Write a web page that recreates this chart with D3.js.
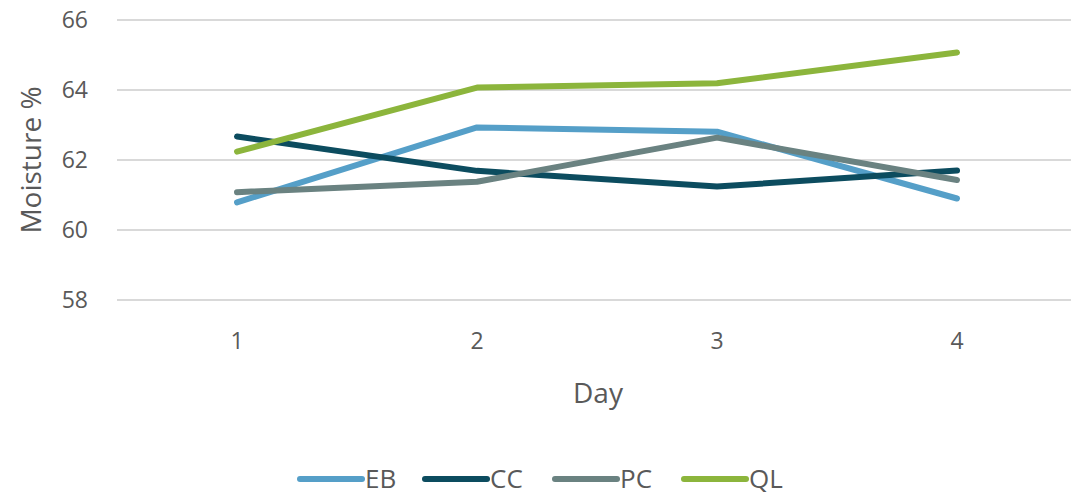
<!DOCTYPE html>
<html>
<head>
<meta charset="utf-8">
<script src="https://cdn.jsdelivr.net/npm/d3@7"></script>
<style>
  body { margin: 0; background: #fff; }
  text { font-family: "Open Sans", "Noto Sans", sans-serif; fill: #595959; }
</style>
</head>
<body>
<div id="chart"></div>
<script>
// chart data
const days = ['1', '2', '3', '4']
const seriesNames = ['EB', 'CC', 'PC', 'QL']
const ebValues = [60.79, 62.93, 62.81, 60.90]
const ccValues = [62.67, 61.69, 61.24, 61.70]
const pcValues = [61.08, 61.38, 62.64, 61.43]
const qlValues = [62.24, 64.07, 64.19, 65.07]
const yTicks = [58, 60, 62, 64, 66]
const colors = ['#559fc8', '#0c4c5f', '#6a8281', '#8cb53c']

const series = [ebValues, ccValues, pcValues, qlValues]

const width = 1071,
  height = 495

let svg = d3.select('#chart')
  .append('svg')
  .attr('width', width)
  .attr('height', height)

const xScale = d3.scaleBand()
  .domain(days)
  .range([117, 1077])

const yScale = d3.scaleLinear()
  .domain([58, 66])
  .range([300, 20])

// gridlines
svg.append('g')
  .selectAll('line')
  .data(yTicks)
  .enter()
  .append('line')
  .attr('x1', 117)
  .attr('x2', 1077)
  .attr('y1', d => yScale(d))
  .attr('y2', d => yScale(d))
  .attr('stroke', '#d9d9d9')
  .attr('stroke-width', 2)

// y axis
let yAxisGroup = svg.append('g')
  .attr('transform', 'translate(100, 0)')
  .call(d3.axisLeft(yScale).tickValues(yTicks).tickSize(0).tickPadding(12))
yAxisGroup.select('.domain').remove()
yAxisGroup.selectAll('text')
  .style('font-size', '23px')
  .attr('fill', '#595959')

// x axis
let xAxisGroup = svg.append('g')
  .attr('transform', 'translate(0, 329)')
  .call(d3.axisBottom(xScale).tickSize(0).tickPadding(4))
xAxisGroup.select('.domain').remove()
xAxisGroup.selectAll('text')
  .style('font-size', '23px')
  .attr('fill', '#595959')

// axis titles
svg.append('text')
  .attr('transform', 'translate(41, 160) rotate(-90)')
  .attr('text-anchor', 'middle')
  .style('font-size', '28px')
  .text('Moisture %')

svg.append('text')
  .attr('x', 598)
  .attr('y', 403)
  .attr('text-anchor', 'middle')
  .style('font-size', '28px')
  .text('Day')

// lines
const line = d3.line()
  .x((d, i) => xScale(days[i]) + xScale.bandwidth() / 2)
  .y(d => yScale(d))

svg.append('g')
  .selectAll('path')
  .data(series)
  .enter()
  .append('path')
  .attr('d', d => line(d))
  .attr('fill', 'none')
  .attr('stroke', (d, i) => colors[i])
  .attr('stroke-width', 6)
  .attr('stroke-linecap', 'round')
  .attr('stroke-linejoin', 'round')

// legend
const legendX = [298, 423, 553, 682]
let legend = svg.append('g')
  .selectAll('g')
  .data(seriesNames)
  .enter()
  .append('g')
  .attr('transform', (d, i) => `translate(${legendX[i]}, 479)`)

legend.append('line')
  .attr('x1', 2)
  .attr('x2', 64)
  .attr('stroke', (d, i) => colors[i])
  .attr('stroke-width', 6)
  .attr('stroke-linecap', 'round')

legend.append('text')
  .attr('x', 67)
  .attr('y', 9)
  .style('font-size', '26px')
  .text(d => d)
</script>
</body>
</html>
